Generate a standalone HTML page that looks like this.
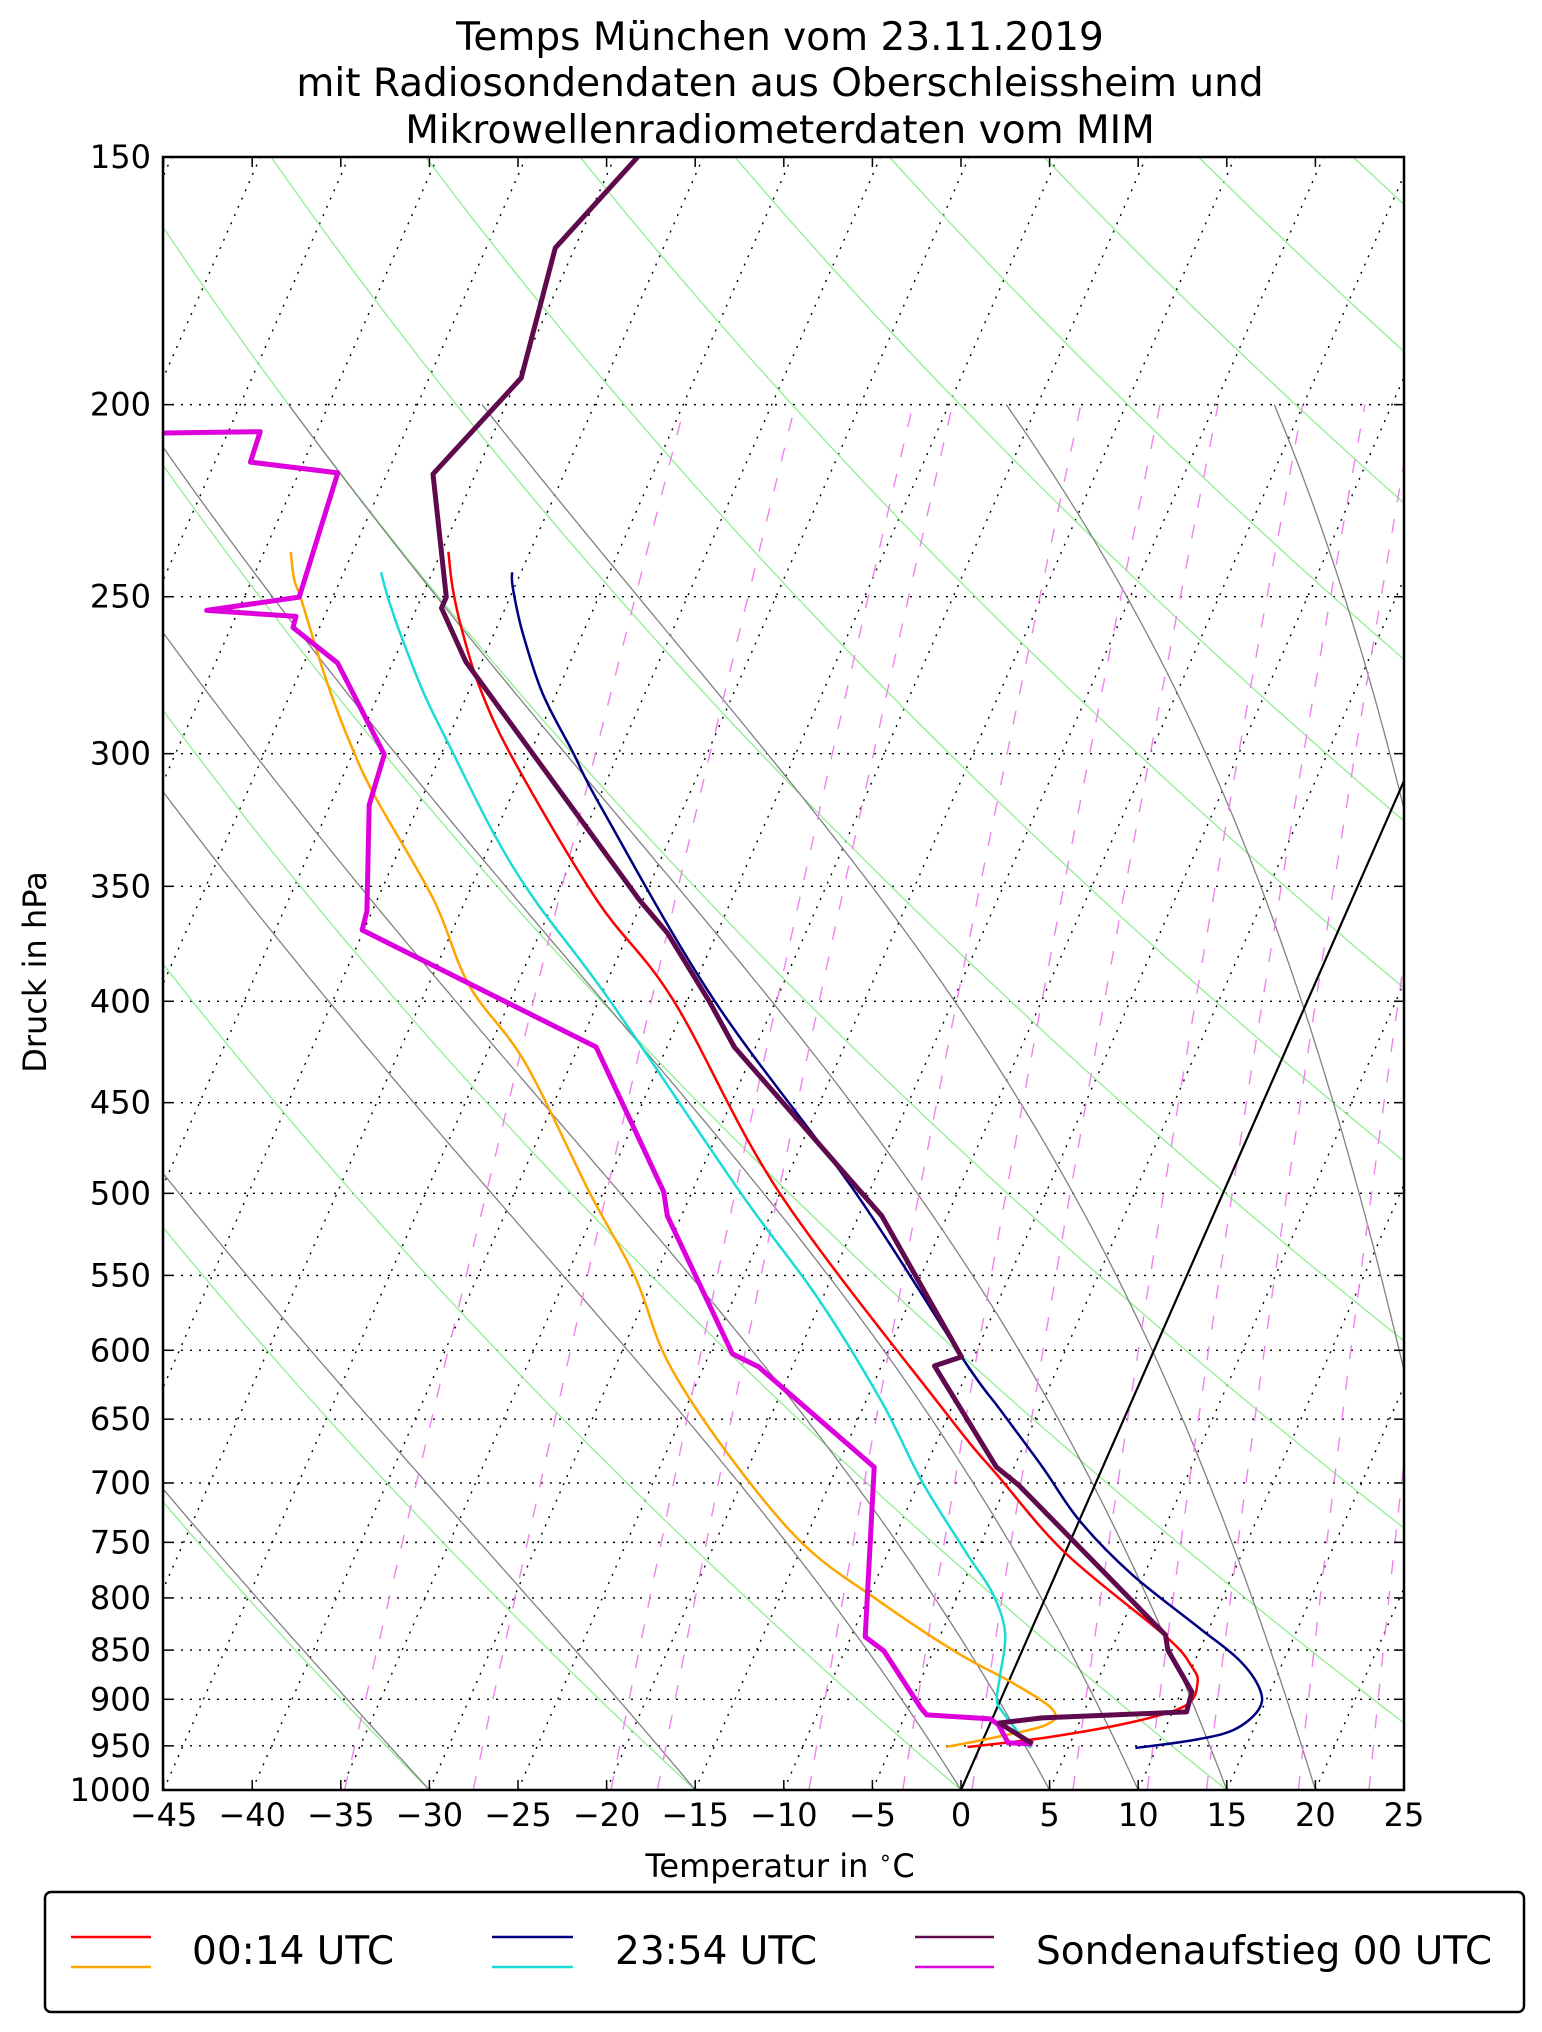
<!DOCTYPE html>
<html><head><meta charset="utf-8">
<style>
html,body{margin:0;padding:0;background:#fff;}
svg{display:block;font-family:"DejaVu Sans","Liberation Sans",sans-serif;}
</style></head>
<body>
<svg id="chart" width="1542" height="2032" viewBox="0 0 1542 2032" xmlns="http://www.w3.org/2000/svg">
<defs><clipPath id="plotclip"><rect x="163" y="157" width="1241" height="1633"/></clipPath></defs>
<rect x="0" y="0" width="1542" height="2032" fill="#fff"/>
<g font-size="39" text-anchor="middle" fill="#000">
<text x="780" y="50">Temps München vom 23.11.2019</text>
<text x="780" y="96">mit Radiosondendaten aus Oberschleissheim und</text>
<text x="780" y="143">Mikrowellenradiometerdaten vom MIM</text>
</g>
<g id="guides" clip-path="url(#plotclip)"></g>
<g id="series" clip-path="url(#plotclip)"></g>
<rect x="163" y="157" width="1241" height="1633" fill="none" stroke="#000" stroke-width="2.5"/>
<g id="axes"></g>
<text x="780" y="1877" font-size="32" text-anchor="middle">Temperatur in <tspan font-size="22" dy="-12">∘</tspan><tspan dy="12">C</tspan></text>
<text x="0" y="0" font-size="32" text-anchor="middle" transform="translate(46,972) rotate(-90)">Druck in hPa</text>
<g>
<rect x="45" y="1892" width="1479" height="120" rx="6" ry="6" fill="#fff" stroke="#000" stroke-width="2.5"/>
<line x1="71" y1="1937" x2="151" y2="1937" stroke="#ff0000" stroke-width="2.5"/>
<line x1="71" y1="1967" x2="151" y2="1967" stroke="#ffa500" stroke-width="2.5"/>
<text x="192" y="1964" font-size="39">00:14 UTC</text>
<line x1="492" y1="1937" x2="573" y2="1937" stroke="#000080" stroke-width="2.5"/>
<line x1="492" y1="1967" x2="573" y2="1967" stroke="#1adcd4" stroke-width="2.5"/>
<text x="615" y="1964" font-size="39">23:54 UTC</text>
<line x1="915" y1="1937" x2="994" y2="1937" stroke="#5e0a4c" stroke-width="2.5"/>
<line x1="915" y1="1967" x2="994" y2="1967" stroke="#dd00dd" stroke-width="2.5"/>
<text x="1036" y="1964" font-size="39">Sondenaufstieg 00 UTC</text>
</g>
</svg>
<script>
// ---- data ----
const xTicks = [-45,-40,-35,-30,-25,-20,-15,-10,-5,0,5,10,15,20,25];
const yTicks = [150,200,250,300,350,400,450,500,550,600,650,700,750,800,850,900,950,1000];
const mixRatios = [0.2,0.4,0.8,1,2,3,4,6,8,10,14,18];
const moistT0 = [-30,-15,0,5,10,15,20,30,35];

const sondeP = [150,166.7,193.9,216.8,250.1,253.3,269.6,274.4,355.6,369.5,400.4,421.8,513.2,604.6,611,687.2,701.7,835.2,849.9,892.3,913.3,919.7,925.1,947.9];
const sondeT = [-58.7,-61.1,-59.8,-62.4,-58.6,-58.6,-55.9,-54.9,-40.2,-37.8,-33.7,-31.2,-18.7,-10.7,-12.0,-6.0,-4.3,7.7,8.2,10.6,10.8,2.8,0.5,2.9];
const sondeTdP = [206.7,206.4,213.8,216.5,250.1,254.0,255.8,259.1,270.0,300.3,318.4,360.2,368.2,421.8,499.1,513.2,602.5,611.7,687.2,837.1,850.8,909.0,916.4,920.7,927.1,946.8,947.9];
const sondeTd = [-78.7,-73.2,-73.0,-67.8,-66.9,-71.8,-66.6,-66.5,-63.1,-58.2,-57.8,-55.3,-55.1,-39.0,-31.6,-30.8,-23.7,-21.9,-12.9,-9.2,-7.8,-4.3,-3.8,-0.1,0.5,1.5,2.9];
const mwr0014P = [237.3,247.2,259.1,277.6,302.0,355.6,399.5,499.1,643.0,695.3,760.2,837.1,867.0,883.3,906.3,924.0,940.3,951.3];
const mwr0014T = [-59.6,-58.5,-57.0,-54.5,-50.8,-42.6,-35.8,-25.1,-10.4,-5.6,0.1,7.8,10.0,10.7,10.6,8.0,3.7,-0.7];
const mwr0014TdP = [237.3,245.2,251.0,276.3,298.6,316.5,355.6,392.6,429.7,499.1,551.0,607.5,675.3,750.5,802.1,852.8,883.3,911.1,927.1,940.3,951.3];
const mwr0014Td = [-68.5,-67.6,-66.7,-63.2,-60.1,-57.5,-51.8,-47.7,-42.6,-35.8,-31.1,-27.2,-21.6,-15.1,-9.4,-3.6,0.3,3.2,3.2,0.7,-1.9];
const mwr2354P = [243.0,247.2,260.0,279.6,299.6,320.3,399.5,499.1,606.8,643.0,687.2,731.1,778.4,828.1,860.1,890.3,911.1,932.6,943.6,952.4];
const mwr2354T = [-55.5,-55.1,-53.5,-50.8,-47.6,-44.5,-33.5,-20.8,-10.5,-7.2,-3.4,0.0,4.3,9.4,12.5,14.4,14.8,13.9,11.9,8.8];
const mwr2354TdP = [243.0,250.1,260.9,279.6,296.2,328.9,355.6,399.5,499.1,563.3,635.6,699.4,760.2,795.6,833.3,877.5,901.0,914.8,952.4];
const mwr2354Td = [-62.9,-61.9,-60.3,-57.5,-54.9,-50.1,-46.1,-39.4,-27.3,-20.4,-14.2,-9.8,-5.5,-3.1,-1.4,-0.6,-0.2,0.5,2.9];

// ---- axes functions ----
const Y0 = 157, Y1 = 1790, X0T = 961, PXT = 17.72, SKEW = 0.439;
function yOf(p){ return Y0 + (Y1-Y0)*Math.log(p/150)/Math.log(1000/150); }
function xOf(T,p){ return X0T + PXT*T + SKEW*(Y1 - yOf(p)); }
const NS = "http://www.w3.org/2000/svg";
function mk(tag, attrs, parent){
  const e = document.createElementNS(NS, tag);
  for (const k in attrs) e.setAttribute(k, attrs[k]);
  parent.appendChild(e); return e;
}
function pathFrom(ps, ts){
  let d = "";
  for (let i=0;i<ps.length;i++){ d += (i?"L":"M") + xOf(ts[i],ps[i]).toFixed(1) + " " + yOf(ps[i]).toFixed(1); }
  return d;
}
function smoothFrom(ps, ts){
  const pts = ps.map((p,i)=>[xOf(ts[i],p), yOf(p)]);
  let d = "M" + pts[0][0].toFixed(1) + " " + pts[0][1].toFixed(1);
  for (let i=0;i<pts.length-1;i++){
    const p0 = pts[Math.max(0,i-1)], p1 = pts[i], p2 = pts[i+1], p3 = pts[Math.min(pts.length-1,i+2)];
    const c1 = [p1[0]+(p2[0]-p0[0])/6, p1[1]+(p2[1]-p0[1])/6];
    const c2 = [p2[0]-(p3[0]-p1[0])/6, p2[1]-(p3[1]-p1[1])/6];
    d += "C" + c1[0].toFixed(1)+" "+c1[1].toFixed(1)+" "+c2[0].toFixed(1)+" "+c2[1].toFixed(1)+" "+p2[0].toFixed(1)+" "+p2[1].toFixed(1);
  }
  return d;
}
const guides = document.getElementById("guides");
const series = document.getElementById("series");
const axes = document.getElementById("axes");

for (const p of yTicks){
  if (p===150 || p===1000) continue;
  const l = mk("line",{x1:163,x2:1404,y1:yOf(p),y2:yOf(p),stroke:"#000","stroke-width":1.4,"stroke-dasharray":"2 7"},guides);
  
  
}
for (let T=-150; T<=25; T+=5){
  if (T===0) continue;
  const l = mk("line",{x1:xOf(T,1000),y1:yOf(1000),x2:xOf(T,150),y2:yOf(150),stroke:"#000","stroke-width":1.4,"stroke-dasharray":"2 7"},guides);
  
  
}
for (let k=-6;k<=16;k++){
  const th = 273.15 + 15*k; const ps=[], ts=[];
  for (let p=1000;p>=150;p-=10){ ps.push(p); ts.push(th*Math.pow(p/1000,0.2857)-273.15); }
  const l = mk("path",{d:pathFrom(ps,ts),fill:"none",stroke:"#90ee90","stroke-width":1.3},guides);
  
  
}
function es(Tc){ return 6.112*Math.exp(17.67*Tc/(Tc+243.5)); }
function dTdp(Tk,p){
  const Rd=287.04,Cp=1005.7,Lv=2.501e6,eps=0.622;
  const e=es(Tk-273.15), rs=eps*e/(p-e);
  return (Rd*Tk + Lv*rs)/(p*(Cp + Lv*Lv*rs*eps/(Rd*Tk*Tk)));
}
for (const T0 of moistT0){
  const ps=[1000], ts=[T0]; let Tk=T0+273.15;
  for (let p=1000;p>200;p-=2){
    const dp=-2; const k1=dTdp(Tk,p); const k2=dTdp(Tk+k1*dp,p+dp);
    Tk += 0.5*(k1+k2)*dp; ps.push(p+dp); ts.push(Tk-273.15);
  }
  const l = mk("path",{d:pathFrom(ps,ts),fill:"none",stroke:"#808080","stroke-width":1.3},guides);
  
  
}
for (const w of mixRatios){
  const ps=[], ts=[];
  for (let p=1000;p>=200;p-=20){
    const e=w*p/(622+w); const ln=Math.log(e/6.112);
    ps.push(p); ts.push(243.5*ln/(17.67-ln));
  }
  const l = mk("path",{d:pathFrom(ps,ts),fill:"none",stroke:"#ee82ee","stroke-width":1.4,"stroke-dasharray":"14 17"},guides);
  
  
}
{
  const l = mk("line",{x1:xOf(0,1000),y1:yOf(1000),x2:xOf(0,150),y2:yOf(150),stroke:"#000","stroke-width":2.2},guides);
  
  
}
function drawSeries(ps, ts, color, w, name, smooth){
  const l = mk("path",{d:(smooth?smoothFrom(ps,ts):pathFrom(ps,ts)),fill:"none",stroke:color,"stroke-width":w,"stroke-linejoin":"round","stroke-linecap":"butt"},series);
  
  
}
drawSeries(mwr0014TdP, mwr0014Td, "#ffa500", 2.5, "dewpoint-0014-line", true);
drawSeries(mwr0014P, mwr0014T, "#ff0000", 2.5, "temperature-0014-line", true);
drawSeries(mwr2354TdP, mwr2354Td, "#1adcd4", 2.5, "dewpoint-2354-line", true);
drawSeries(mwr2354P, mwr2354T, "#000080", 2.5, "temperature-2354-line", true);
drawSeries(sondeTdP, sondeTd, "#dd00dd", 5, "sonde-dewpoint-line", false);
drawSeries(sondeP, sondeT, "#5e0a4c", 5, "sonde-temperature-line", false);

for (const T of xTicks){
  const x = X0T + PXT*T;
  let t = mk("line",{x1:x,x2:x,y1:Y1,y2:Y1-10,stroke:"#000","stroke-width":1.5},axes);
  
  
  t = mk("line",{x1:x,x2:x,y1:Y0,y2:Y0+10,stroke:"#000","stroke-width":1.5},axes);
  
  
  const lb = mk("text",{x:x,y:1826,"font-size":32,"text-anchor":"middle"},axes);
  lb.textContent = (T<0?"\u2212"+(-T):String(T));
  
  
}
for (const p of yTicks){
  const y = yOf(p);
  let t = mk("line",{x1:163,x2:173,y1:y,y2:y,stroke:"#000","stroke-width":1.5},axes);
  
  
  t = mk("line",{x1:1394,x2:1404,y1:y,y2:y,stroke:"#000","stroke-width":1.5},axes);
  
  
  const lb = mk("text",{x:151,y:y+11,"font-size":32,"text-anchor":"end"},axes);
  lb.textContent = String(p);
  
  
}
</script>
</body></html>
